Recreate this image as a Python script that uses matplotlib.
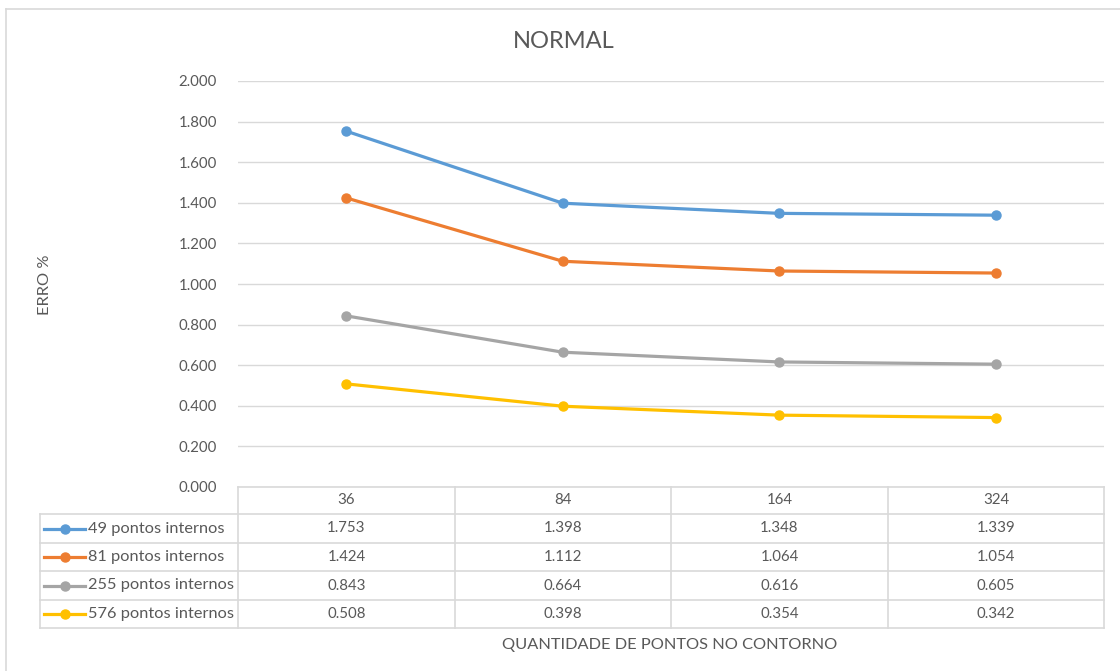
import matplotlib
matplotlib.use("Agg")
import matplotlib.pyplot as plt
from matplotlib.lines import Line2D

# Data
categories = ["36", "84", "164", "324"]
series_names = ["49 pontos internos", "81 pontos internos",
                "255 pontos internos", "576 pontos internos"]
erro_49 = [1.753, 1.398, 1.348, 1.339]
erro_81 = [1.424, 1.112, 1.064, 1.054]
erro_255 = [0.843, 0.664, 0.616, 0.605]
erro_576 = [0.508, 0.398, 0.354, 0.342]
y_ticks = [0.0, 0.2, 0.4, 0.6, 0.8, 1.0, 1.2, 1.4, 1.6, 1.8, 2.0]

series = [erro_49, erro_81, erro_255, erro_576]
colors = ["#5B9BD5", "#ED7D31", "#A5A5A5", "#FFC000"]
text_color = "#595959"
grid_color = "#D9D9D9"
font = ["Lato", "DejaVu Sans"]
plt.rcParams["font.family"] = font
num_size = 10.8
label_size = 11.8

W, H = 1120, 671
fig = plt.figure(figsize=(W / 100, H / 100), dpi=100)
fig.patch.set_facecolor("white")


def fx(px):
    return px / W


def fy(py):
    return 1 - py / H


# Plot area
left, right, top, bottom = 238, 1104, 81, 487
ax = fig.add_axes([fx(left), fy(bottom), fx(right - left), (bottom - top) / H])
x = list(range(len(categories)))
for vals, c in zip(series, colors):
    ax.plot(x, vals, color=c, lw=2.3, marker="o", ms=6.5, solid_capstyle="round", zorder=3)

ax.set_xlim(-0.5, len(categories) - 0.5)
ax.set_ylim(0, 2.0)
ax.set_yticks(y_ticks)
ax.set_yticklabels([f"{v:.3f}" for v in y_ticks], color=text_color, fontsize=num_size)
ax.set_xticks([])
ax.tick_params(axis="y", length=0, pad=15)
ax.grid(axis="y", color=grid_color, lw=1)
for s in ax.spines.values():
    s.set_visible(False)
ax.set_axisbelow(True)

# Outer chart border
fig.add_artist(Line2D([fx(6), 1], [fy(9), fy(9)], color=grid_color, lw=1.2))
fig.add_artist(Line2D([fx(6), fx(6)], [fy(9), 0], color=grid_color, lw=1.2))

# Title and axis titles
fig.text(fx(564), fy(42), "NORMAL", ha="center", va="center", fontsize=17, color=text_color)
fig.text(fx(45), fy(285), "ERRO %", ha="center", va="center", rotation=90,
         fontsize=label_size, color=text_color)
fig.text(fx(670), fy(645), "QUANTIDADE DE PONTOS NO CONTORNO", ha="center", va="center",
         fontsize=label_size, color=text_color)

# Data table
col_edges = [40, 238, 455, 671, 888, 1104]
row_edges = [487, 514, 543, 571, 600, 628]


def hline(y, x0, x1):
    fig.add_artist(Line2D([fx(x0), fx(x1)], [fy(y), fy(y)], color=grid_color, lw=1.2))


def vline(xp, y0, y1):
    fig.add_artist(Line2D([fx(xp), fx(xp)], [fy(y0), fy(y1)], color=grid_color, lw=1.2))


hline(row_edges[0], col_edges[1], col_edges[-1])
for y in row_edges[1:]:
    hline(y, col_edges[0], col_edges[-1])
vline(col_edges[0], row_edges[1], row_edges[-1])
for xp in col_edges[1:]:
    vline(xp, row_edges[0], row_edges[-1])

# Header row with categories
for j, cat in enumerate(categories):
    cx = (col_edges[j + 1] + col_edges[j + 2]) / 2
    cy = (row_edges[0] + row_edges[1]) / 2
    fig.text(fx(cx), fy(cy), cat, ha="center", va="center", fontsize=num_size, color=text_color)

# Series rows
for i, (name, vals, c) in enumerate(zip(series_names, series, colors)):
    cy = (row_edges[i + 1] + row_edges[i + 2]) / 2
    fig.add_artist(Line2D([fx(44), fx(85)], [fy(cy), fy(cy)], color=c, lw=2.3))
    fig.add_artist(Line2D([fx(64.5)], [fy(cy)], color=c, marker="o", ms=6.5, lw=0))
    fig.text(fx(88), fy(cy), name, ha="left", va="center", fontsize=label_size, color=text_color)
    for j, v in enumerate(vals):
        cx = (col_edges[j + 1] + col_edges[j + 2]) / 2
        fig.text(fx(cx), fy(cy), f"{v:.3f}", ha="center", va="center",
                 fontsize=num_size, color=text_color)

fig.savefig("out.png", dpi=100, facecolor="white")
